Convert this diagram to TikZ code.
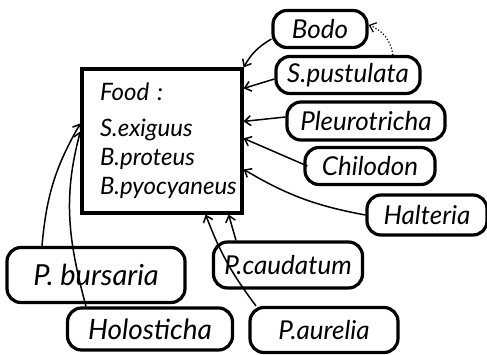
\documentclass[tikz,border=0pt]{standalone}
\usepackage{fontspec}
\setmainfont{Lato}
\usepackage{tikz}
\usetikzlibrary{arrows.meta}

\begin{document}
\begin{tikzpicture}[
  x=0.5pt, y=0.5pt,
  font=\fontsize{12}{14}\selectfont\itshape,
  arr/.style={-{Straight Barb[length=3pt,width=5pt]}, line width=0.75pt},
  darr/.style={-{Straight Barb[length=3pt,width=5pt]}, line width=0.6pt, densely dotted},
  pill/.style={rectangle, rounded corners=7pt, draw, line width=1.6pt,
               inner sep=1pt, minimum height=18.5pt,
               font=\fontsize{13}{15}\selectfont\itshape},
  foodbox/.style={rectangle, draw, line width=1.6pt, text width=62pt,
                  inner xsep=9pt, minimum height=72pt, align=left},
]
\useasboundingbox (0,0) rectangle (487,-354);

%% ===== Food box =====
\node[foodbox] (food) at (162,-141) {
  Food :\\[4pt]
  S.exiguus\\[0.5pt]
  B.proteus\\[0.5pt]
  B.pyocyaneus\\[-1pt]};

%% ===== Right side =====
\node[pill, minimum width=47pt] (bodo) at (320,-29) {Bodo};
\node[pill, minimum width=72pt] (spust) at (348,-75) {S.pustulata};
\node[pill, minimum width=79pt, minimum height=19pt] (pleuro) at (366,-121) {Pleurotricha};
\node[pill, minimum width=65pt] (chilo) at (370,-166) {Chilodon};
\node[pill, minimum width=60pt, minimum height=20pt] (halt) at (427,-215) {Halteria};

%% ===== Bottom =====
\node[pill, minimum width=89pt, minimum height=27.5pt,
      font=\fontsize{14.5}{16}\selectfont\itshape] (bursa) at (96,-275) {P. bursaria};
\node[pill, minimum width=82.5pt, minimum height=21pt,
      font=\fontsize{14}{16}\selectfont\itshape] (holo) at (150,-329) {Holosticha};
\node[pill, minimum width=74.5pt, minimum height=23pt] (caud) at (288,-265) {P.caudatum};
\node[pill, minimum width=74pt, minimum height=22.5pt] (aur) at (324,-330) {P.aurelia};

%% ===== Arrows =====
\draw[arr] ([yshift=-5pt]bodo.west) to[bend right=15] (food.north east);
\draw[arr] ([yshift=-2pt]spust.west) -- ([yshift=-10.5pt]food.north east);
\draw[arr] ([yshift=2pt]pleuro.west) -- ([yshift=-27pt]food.north east);
\draw[arr] ([xshift=2pt]chilo.west) -- ([yshift=-35.5pt]food.north east);
\draw[arr] (halt.west) to[bend left=10] ([yshift=-51pt]food.north east);

\draw[arr] ([xshift=-27pt]bursa.north) to[out=85,in=-120] ([yshift=-28pt]food.north west);
\draw[arr] ([xshift=-32pt]holo.north) to[out=105,in=-105] ([yshift=-32pt]food.north west);
\draw[arr] ([xshift=-26pt]caud.north) -- ([xshift=-7.5pt]food.south east);
\draw[arr] ([xshift=-34pt]aur.north) to[bend left=8] ([xshift=-19pt]food.south east);

\draw[darr] ([xshift=22.5pt]spust.north) to[bend right=30] ([yshift=2pt]bodo.east);

\end{tikzpicture}
\end{document}
